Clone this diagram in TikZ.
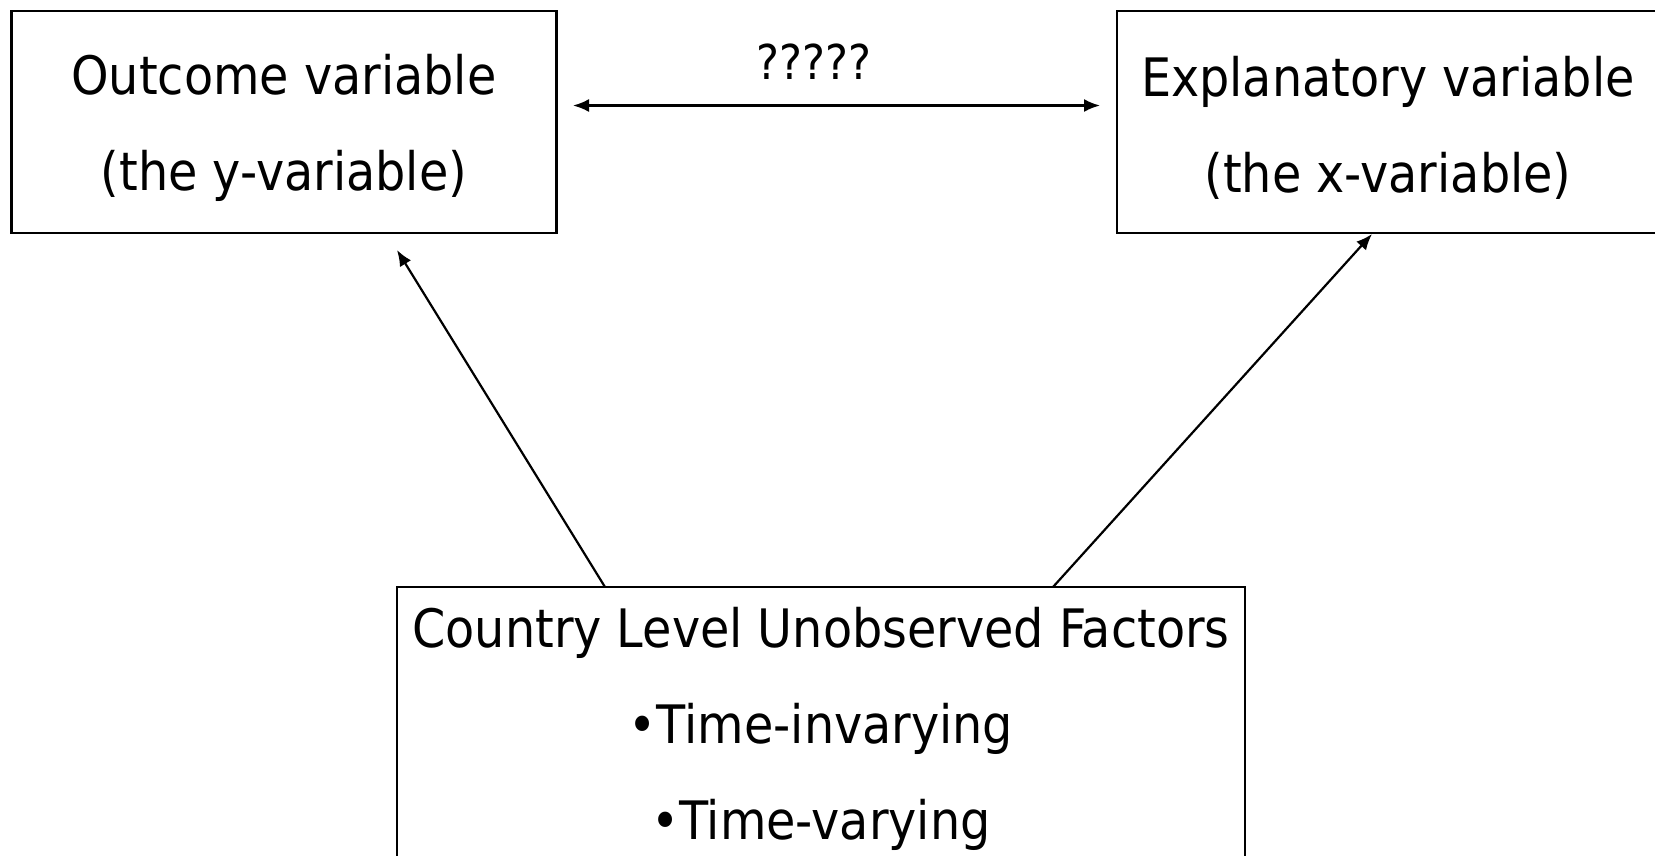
\documentclass[tikz,border=0pt]{standalone}
\usepackage{fontspec}
\setmainfont{DejaVu Sans Condensed}
\usetikzlibrary{arrows.meta}
\begin{document}
\begin{tikzpicture}[x=1pt,y=-1pt,
  box/.style={draw, line width=2.2pt, rectangle, inner sep=0pt},
  txt/.style={align=center, inner sep=0pt, font=\fontsize{53}{96}\selectfont},
  tip/.tip={Latex[length=16pt,width=13pt]},
  conn/.style={line width=2.2pt, -tip},
  lbl/.style={inner sep=0pt, font=\fontsize{48}{60}\selectfont}]
\useasboundingbox (0,0) rectangle (1655,855);
\node[box, minimum width=545, minimum height=222] (y) at (284,122) {};
\node[txt] (yt) at (284,128) {Outcome variable\\(the y-variable)};
\node[box, minimum width=542, minimum height=222] (x) at (1388,122) {};
\node[txt] (xt) at (1388,128) {Explanatory variable\\(the x-variable)};
\node[box, minimum width=848, minimum height=276] (u) at (821,725) {};
\node[txt] (ut) at (821,729) {Country Level Unobserved Factors\\\textbullet Time-invarying\\\textbullet Time-varying};
\coordinate (ya) at (573,105.5);
\coordinate (xa) at (1100,105.5);
\draw[line width=2.2pt, tip-tip] (ya) -- (xa);
\node[lbl] (q) at (814,62) {?????};
\coordinate (u1) at (605,587);
\coordinate (y1) at (397,250);
\coordinate (u2) at (1053,587);
\coordinate (x1) at (1372,234);
\draw[conn] (u1) -- (y1);
\draw[conn] (u2) -- (x1);
\end{tikzpicture}
\end{document}
